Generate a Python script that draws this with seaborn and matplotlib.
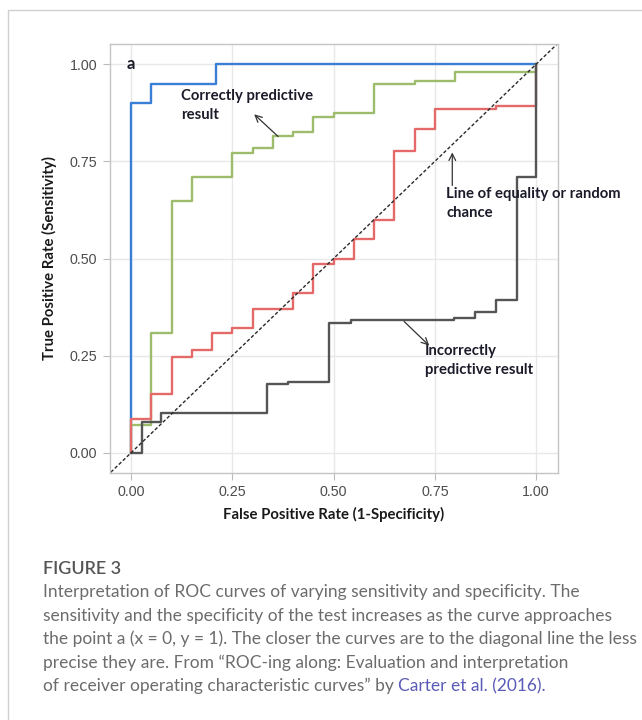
import matplotlib
matplotlib.use("Agg")
import matplotlib.pyplot as plt
from matplotlib.lines import Line2D
import seaborn as sns
import pandas as pd

# ---- data (ROC points) ----
blue_fpr = [0.0, 0.0, 0.05, 0.21, 1.0]
blue_tpr = [0.0, 0.90, 0.948, 1.0, 1.0]

green_fpr = [0.0, 0.0, 0.05, 0.10, 0.15, 0.25, 0.30, 0.35, 0.40, 0.45, 0.50, 0.60, 0.70, 0.80, 1.0, 1.0]
green_tpr = [0.0, 0.072, 0.307, 0.647, 0.711, 0.771, 0.785, 0.814, 0.826, 0.865, 0.874, 0.948, 0.957, 0.979, 0.979, 1.0]

red_fpr = [0.0, 0.0, 0.05, 0.10, 0.15, 0.20, 0.25, 0.30, 0.40, 0.45, 0.50, 0.55, 0.60, 0.65, 0.70, 0.75, 0.90, 1.0, 1.0]
red_tpr = [0.0, 0.088, 0.152, 0.247, 0.265, 0.307, 0.320, 0.371, 0.412, 0.487, 0.500, 0.549, 0.600, 0.776, 0.832, 0.884, 0.892, 0.892, 1.0]

black_fpr = [0.0, 0.027, 0.075, 0.336, 0.388, 0.489, 0.543, 0.798, 0.849, 0.90, 0.953, 1.0, 1.0]
black_tpr = [0.0, 0.080, 0.103, 0.178, 0.183, 0.335, 0.343, 0.348, 0.363, 0.394, 0.711, 0.711, 1.0]

diag = [-0.05, 1.05]
ticks = [0.0, 0.25, 0.50, 0.75, 1.0]
tick_labels = ["0.00", "0.25", "0.50", "0.75", "1.00"]

caption_title = "FIGURE 3"
caption_lines = [
    "Interpretation of ROC curves of varying sensitivity and specificity. The",
    "sensitivity and the specificity of the test increases as the curve approaches",
    "the point a (x = 0, y = 1). The closer the curves are to the diagonal line the less",
    "precise they are. From \u201cROC-ing along: Evaluation and interpretation",
    "of receiver operating characteristic curves\u201d by ",
]
caption_link = "Carter et al. (2016)."

# ---- style ----
sns.set_theme(style="whitegrid")
plt.rcParams["font.family"] = ["Liberation Sans", "DejaVu Sans"]

fig = plt.figure(figsize=(6.42, 7.2), dpi=100)
ax = fig.add_axes([110 / 642, 1 - 473 / 720, 448 / 642, 429 / 720])

curves = [
    (blue_fpr, blue_tpr, "#3a7fd6"),
    (green_fpr, green_tpr, "#9dbd6c"),
    (red_fpr, red_tpr, "#e46a6a"),
    (black_fpr, black_tpr, "#555555"),
]
for fpr, tpr, col in curves:
    df = pd.DataFrame({"fpr": fpr, "tpr": tpr})
    sns.lineplot(data=df, x="fpr", y="tpr", sort=False, estimator=None,
                 drawstyle="steps-post", color=col, linewidth=1.7, ax=ax)

sns.lineplot(x=diag, y=diag, color="#2a2a2a", linewidth=1.0,
             linestyle=(0, (2.5, 1.5)), ax=ax)

ax.set_xlim(-0.052, 1.054)
ax.set_ylim(-0.052, 1.052)
ax.set_xticks(ticks)
ax.set_xticklabels(tick_labels)
ax.set_yticks(ticks)
ax.set_yticklabels(tick_labels)
ax.grid(True, color="#e8e8e8", linewidth=1.0)
for s in ax.spines.values():
    s.set_color("#c4c4c4")
    s.set_linewidth(1.0)
ax.tick_params(axis="both", length=5, width=0.8, color="#bbbbbb",
               labelsize=10.3, labelcolor="#4d4d4d", pad=4, bottom=True, left=True)

lab_font = dict(family=["Lato", "DejaVu Sans"], weight="bold", color="#1a1a1a")
ax.set_xlabel("False Positive Rate (1-Specificity)", fontsize=10.7, labelpad=5, **lab_font)
ax.set_ylabel("True Positive Rate (Sensitivity)", fontsize=10.7, labelpad=9, **lab_font)

ann_font = dict(family=["Lato", "DejaVu Sans"], weight="bold", color="#1b1b2a", fontsize=10.7)
ax.text(0.0, 1.0, "a", ha="center", va="center", **dict(ann_font, fontsize=12))
ax.text(0.123, 0.937, "Correctly predictive\nresult", ha="left", va="top", linespacing=1.5, **ann_font)
ax.text(0.778, 0.685, "Line of equality or random\nchance", ha="left", va="top", linespacing=1.5, **ann_font)
ax.text(0.726, 0.280, "Incorrectly\npredictive result", ha="left", va="top", linespacing=1.5, **ann_font)

arrow = dict(arrowstyle="->", color="#333333", lw=0.9, shrinkA=0, shrinkB=0)
ax.annotate("", xy=(0.304, 0.871), xytext=(0.363, 0.814), arrowprops=arrow)
ax.annotate("", xy=(0.793, 0.773), xytext=(0.793, 0.688), arrowprops=arrow)
ax.annotate("", xy=(0.736, 0.276), xytext=(0.674, 0.338), arrowprops=arrow)

# ---- card border ----
fig.add_artist(Line2D([8 / 642, 1.0], [1 - 10 / 720, 1 - 10 / 720], color="#d0d0d0", lw=1.0))
fig.add_artist(Line2D([8 / 642, 8 / 642], [0.0, 1 - 10 / 720], color="#d0d0d0", lw=1.0))

# ---- caption ----
cap_font = dict(family=["Lato", "DejaVu Sans"], color="#6c6c6c")
x0 = 43 / 642
fig.text(x0, 1 - 569 / 720, caption_title, fontsize=13, weight="semibold", va="center",
         family=["Lato", "DejaVu Sans"], color="#555555")
y_px = [592, 615.5, 639, 662.5, 686]
last = None
for line, yp in zip(caption_lines, y_px):
    last = fig.text(x0, 1 - yp / 720, line, fontsize=12.5, va="center", weight="normal", **cap_font)
fig.canvas.draw()
bb = last.get_window_extent(renderer=fig.canvas.get_renderer())
fig.text(bb.x1 / fig.bbox.width, 1 - y_px[-1] / 720, caption_link, fontsize=12.5,
         va="center", weight="normal", family=["Lato", "DejaVu Sans"], color="#5b5bb8")

fig.savefig("out.png", dpi=100)
